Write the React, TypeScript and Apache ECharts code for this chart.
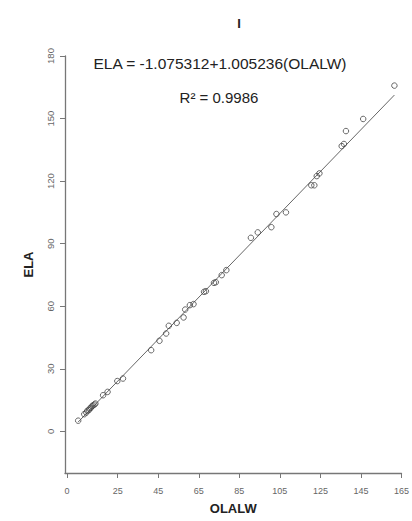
import React, { useEffect, useRef } from "react";
import * as echarts from "echarts";

const olalw = [5.5, 8.5, 9.5, 10, 10.8, 11.2, 11.8, 12.3, 12.8, 13.5, 14, 17.8, 20, 24.8, 27.6, 41.5, 45.6, 48.9, 50.2, 54.1, 57.5, 58.3, 60.6, 62.4, 67.6, 68.5, 72.5, 73.4, 76.3, 78.6, 90.7, 94.1, 100.8, 103.3, 108, 120.5, 122, 123.2, 124.5, 135.5, 136.6, 137.6, 146.1, 161.5];
const ela = [5.1, 8.2, 9, 9.8, 10.2, 10.9, 11.3, 12, 12.4, 12.8, 13.3, 17.3, 18.9, 24.1, 25.3, 38.9, 43.4, 46.9, 50.6, 52, 54.6, 58.4, 60.5, 61, 66.9, 67.2, 71.2, 71.5, 74.9, 77.3, 92.8, 95.4, 97.9, 104.2, 105, 118, 118, 122.4, 123.7, 136.8, 137.8, 144, 149.8, 165.8];
const xTicks = [0, 25, 45, 65, 85, 105, 125, 145, 165];
const yTicks = [0, 30, 60, 90, 120, 150, 180];
const intercept = -1.075312;
const slope = 1.005236;
const titleText = "I";
const eqText = "ELA = -1.075312+1.005236(OLALW)";
const r2Text = "R² = 0.9986";

export default function App() {
  const ref = useRef<HTMLDivElement>(null);
  useEffect(() => {
    const chart = echarts.init(ref.current!, null, { renderer: "svg" });
    const pts = olalw.map((x, i) => [x, ela[i]]);
    const x0 = Math.min(...olalw);
    const x1 = Math.max(...olalw);
    const fit = [[x0, intercept + slope * x0], [x1, intercept + slope * x1]];
    const font = "Liberation Sans, Arial, sans-serif";
    chart.setOption({
      animation: false,
      title: {
        text: titleText,
        left: 234,
        top: 12,
        textAlign: "center",
        textStyle: { fontFamily: font, fontWeight: "bold", fontSize: 13, color: "#222" },
      },
      grid: { left: 65, right: 9, top: 56, bottom: 48 },
      xAxis: {
        type: "value",
        min: -1,
        max: 165,
        name: "OLALW",
        nameLocation: "middle",
        nameGap: 29,
        nameTextStyle: { fontFamily: font, fontWeight: "bold", fontSize: 13, color: "#222" },
        axisLine: { show: true, onZero: false, lineStyle: { color: "#777", width: 1.3 } },
        axisTick: { show: true, length: 5, customValues: xTicks, lineStyle: { color: "#777" } },
        axisLabel: { customValues: xTicks, margin: 13, fontFamily: font, fontSize: 9, color: "#666" },
        splitLine: { show: false },
      },
      yAxis: {
        type: "value",
        min: -20,
        max: 180,
        name: "ELA",
        nameLocation: "middle",
        nameGap: 30,
        nameRotate: 90,
        nameTextStyle: { fontFamily: font, fontWeight: "bold", fontSize: 13, color: "#222" },
        axisLine: { show: true, onZero: false, lineStyle: { color: "#777", width: 1.3 } },
        axisTick: { show: true, length: 5, customValues: yTicks, lineStyle: { color: "#777" } },
        axisLabel: { customValues: yTicks, rotate: 90, margin: 10, fontFamily: font, fontSize: 9.5, color: "#666" },
        splitLine: { show: false },
      },
      graphic: [
        {
          type: "text",
          x: 220,
          y: 63,
          style: { text: eqText, fontFamily: font, fontSize: 15.5, fill: "#222", textAlign: "center", textVerticalAlign: "middle" },
        },
        {
          type: "text",
          x: 219,
          y: 97,
          style: { text: r2Text, fontFamily: font, fontSize: 15, fill: "#222", textAlign: "center", textVerticalAlign: "middle" },
        },
      ],
      series: [
        {
          type: "line",
          data: fit,
          symbol: "none",
          lineStyle: { color: "#666", width: 1 },
          z: 1,
        },
        {
          type: "scatter",
          data: pts,
          symbol: "circle",
          symbolSize: 5.5,
          itemStyle: { color: "rgba(255,255,255,0)", borderColor: "#444", borderWidth: 1 },
          z: 2,
        },
      ],
    });
    return () => chart.dispose();
  }, []);
  return <div ref={ref} style={{ position: "absolute", left: 0, top: 0, width: 412, height: 521 }} />;
}
